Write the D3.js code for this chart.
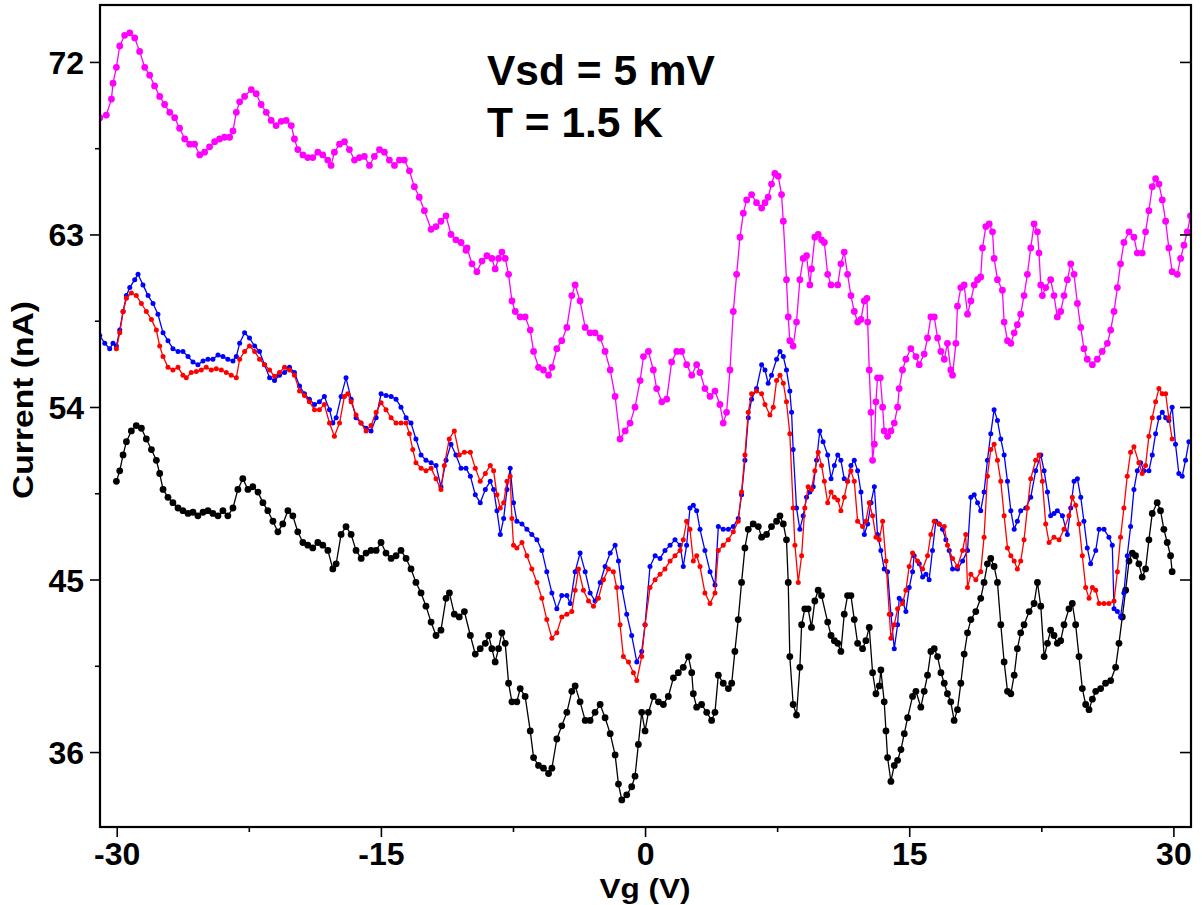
<!DOCTYPE html>
<html>
<head>
<meta charset="utf-8">
<script src="https://cdn.jsdelivr.net/npm/d3@7"></script>
<style>
  html, body { margin: 0; padding: 0; background: #fff; }
  svg { display: block; }
  text { font-family: "Liberation Sans", Arial, Helvetica, sans-serif; font-weight: bold; fill: #000; }
</style>
</head>
<body>
<svg id="chart" width="1202" height="905"></svg>
<script>
// ---------------- DATA (Vg in V, current in nA) ----------------
const xMajorTicks = [-30, -15, 0, 15, 30];
const xMinorTicks = [-22.5, -7.5, 7.5, 22.5];
const yMajorTicks = [36, 45, 54, 63, 72];
const yMinorTicks = [40.5, 49.5, 58.5, 67.5];
const annotationLines = ["Vsd = 5 mV", "T = 1.5 K"];
const xTitle = "Vg (V)";
const yTitle = "Current (nA)";

const magenta = [
[-30.96,69.09],[-30.59,69.23],[-30.30,70.06],[-30.21,70.89],[-30.02,71.72],[-29.83,72.83],[-29.55,73.39],[-29.26,73.52],[-28.98,73.25],[-28.70,72.55],
[-28.41,71.72],[-28.13,71.31],[-27.85,70.75],[-27.56,70.20],[-27.28,69.78],[-26.99,69.37],[-26.71,69.09],[-26.43,68.54],[-26.14,67.98],[-25.86,67.71],
[-25.58,67.71],[-25.29,67.15],[-25.01,67.29],[-24.73,67.57],[-24.44,67.84],[-24.16,67.98],[-23.88,68.07],[-23.59,68.07],[-23.40,68.40],[-23.21,69.37],
[-23.02,69.92],[-22.74,70.20],[-22.36,70.56],[-22.08,70.34],[-21.80,69.78],[-21.51,69.37],[-21.23,68.95],[-20.95,68.68],[-20.66,68.90],[-20.38,68.95],
[-20.09,68.68],[-19.91,67.98],[-19.72,67.43],[-19.43,67.15],[-19.15,67.01],[-18.87,67.01],[-18.58,67.29],[-18.30,67.15],[-18.02,66.88],[-17.83,66.60],
[-17.64,67.29],[-17.35,67.71],[-17.07,67.84],[-16.79,67.43],[-16.50,66.88],[-16.22,67.01],[-15.94,67.07],[-15.65,66.60],[-15.37,67.07],[-15.08,67.43],
[-14.80,67.29],[-14.52,66.88],[-14.23,66.60],[-13.95,66.88],[-13.67,66.88],[-13.38,66.32],[-13.10,65.49],[-12.82,64.94],[-12.53,64.24],[-12.15,63.27],
[-11.87,63.41],[-11.59,63.69],[-11.30,63.97],[-11.02,63.00],[-10.74,62.72],[-10.45,62.58],[-10.17,62.17],
[-10.11,62.30],[-9.83,61.47],[-9.55,61.06],[-9.26,61.61],[-8.98,61.89],[-8.70,61.75],[-8.51,61.20],[-8.32,61.75],[-8.13,62.08],[-7.94,61.75],
[-7.75,60.92],[-7.56,59.53],[-7.37,58.98],[-7.09,58.70],[-6.81,58.70],[-6.52,58.01],[-6.33,56.90],[-6.05,56.07],[-5.77,55.93],[-5.48,55.66],
[-5.29,56.07],[-5.01,57.04],[-4.73,57.46],[-4.44,58.15],[-4.16,59.81],[-3.97,60.37],[-3.69,59.53],[-3.40,58.15],[-3.12,57.87],[-2.84,57.87],
[-2.55,57.60],[-2.27,56.90],[-1.98,55.93],[-1.70,54.55],[-1.42,52.33],[-1.13,52.75],[-0.85,53.16],[-0.57,53.99],[-0.28,55.38],[-0.09,56.63],
[0.19,56.90],[0.47,55.93],[0.66,54.96],[0.95,54.27],[1.23,54.41],[1.51,56.35],[1.80,56.90],[2.08,56.90],[2.36,56.21],[2.65,55.66],
[2.93,56.21],[3.12,55.80],[3.40,54.96],[3.69,54.55],[3.97,54.83],[4.25,54.13],[4.44,53.16],[4.63,53.72],[4.82,55.93],[5.01,58.98],
[5.20,60.92],[5.39,62.86],[5.58,64.11],[5.77,64.80],[6.05,65.08],[6.33,64.66],[6.62,64.38],[6.81,64.66],[6.99,64.94],[7.18,65.63],
[7.37,66.18],[7.56,66.04],[7.75,65.08],[7.85,63.69],[8.03,60.64],[8.13,58.70],[8.22,57.46],[8.41,57.18],[8.60,58.43],[8.79,60.64],
[8.98,61.75],[9.17,61.89],[9.36,60.37],[9.45,61.20],[9.64,62.86],[9.83,63.00],[10.02,62.72],
[10.18,62.58],[10.37,60.92],[10.56,60.37],[10.94,60.37],[11.12,61.47],[11.31,62.08],[11.50,60.92],[11.69,59.81],[11.88,58.98],[12.07,58.43],
[12.26,58.57],[12.45,59.53],[12.60,59.67],[12.64,58.43],[12.73,55.93],[12.83,53.72],[12.92,51.22],[13.02,52.06],[13.11,54.27],[13.20,55.52],
[13.36,55.52],[13.49,53.99],[13.58,52.75],[13.77,52.47],[13.96,52.75],[14.15,53.16],[14.34,53.99],[14.43,54.96],[14.62,55.93],[14.81,56.49],
[15.09,57.04],[15.38,56.63],[15.57,56.21],[15.85,56.76],[16.04,57.60],[16.23,58.70],[16.42,58.70],[16.61,57.60],[16.80,56.90],[16.99,56.49],
[17.17,57.32],[17.36,55.93],[17.46,55.66],[17.65,57.32],[17.74,59.26],[17.93,60.23],[18.12,60.37],[18.31,58.84],[18.50,59.53],[18.69,60.37],
[18.88,60.64],[19.06,60.78],[19.16,62.30],[19.35,63.41],[19.54,63.55],[19.73,63.14],[19.82,61.75],[20.01,60.64],[20.29,60.09],[20.39,58.43],
[20.58,57.46],[20.77,57.32],[20.96,57.87],[21.14,58.29],[21.33,58.84],[21.52,59.81],[21.71,60.92],[21.90,62.30],[22.09,63.55],[22.28,63.14],
[22.37,62.03],[22.47,60.37],[22.56,59.81],[22.75,60.23],[23.03,60.64],[23.22,59.81],[23.41,58.70],[23.60,58.98],[23.79,59.81],[23.98,60.64],
[24.17,61.47],[24.36,60.92],[24.55,59.40],[24.74,58.15],[24.92,57.04],[25.11,56.49],[25.40,56.21],[25.68,56.49],[25.96,56.90],[26.25,57.32],
[26.44,58.01],[26.63,58.98],[26.82,60.23],[27.00,61.47],[27.19,62.58],[27.48,63.14],[27.76,62.86],[27.95,62.03],[28.23,62.03],[28.42,63.14],
[28.61,64.24],[28.80,65.49],[28.99,65.91],[29.18,65.63],[29.37,64.80],[29.56,63.69],[29.74,62.30],[29.93,61.06],[30.22,60.92],[30.41,61.75],
[30.60,62.44],[30.79,63.14],[30.97,63.97]
];

const blue = [
[-30.96,57.73],[-30.68,57.32],[-30.40,57.04],[-30.21,57.32],[-30.02,57.18],[-29.83,58.01],[-29.64,58.98],[-29.45,59.81],[-29.26,60.23],[-28.98,60.64],
[-28.79,60.92],[-28.51,60.37],[-28.22,59.81],[-27.94,59.40],[-27.66,58.84],[-27.37,57.87],[-27.09,57.46],[-26.81,57.04],[-26.52,56.90],[-26.24,56.90],
[-25.95,56.63],[-25.67,56.35],[-25.39,56.21],[-25.10,56.40],[-24.82,56.49],[-24.54,56.49],[-24.25,56.71],[-23.97,56.63],[-23.69,56.49],[-23.40,56.40],
[-23.21,56.63],[-23.02,57.32],[-22.74,57.87],[-22.46,57.60],[-22.17,57.18],[-21.89,56.90],[-21.61,56.21],[-21.32,55.52],[-21.04,55.38],[-20.76,55.66],
[-20.47,55.80],[-20.19,56.07],[-19.91,55.80],[-19.62,55.10],[-19.34,54.69],[-19.06,54.41],[-18.77,54.13],[-18.49,54.27],[-18.21,54.55],[-17.92,53.86],
[-17.73,53.16],[-17.54,53.44],[-17.26,54.55],[-16.98,55.52],[-16.69,54.41],[-16.41,53.44],[-16.13,53.16],[-15.84,52.89],[-15.56,52.75],[-15.27,53.44],
[-14.99,54.69],[-14.71,54.60],[-14.42,54.55],[-14.14,54.41],[-13.86,53.99],[-13.57,53.44],[-13.29,53.16],[-13.01,52.33],[-12.72,51.50],[-12.44,51.22],
[-12.15,51.09],[-11.87,50.95],[-11.59,49.84],[-11.30,51.22],[-11.02,52.06],[-10.74,51.50],[-10.45,50.81],[-10.17,50.81],
[-9.92,50.39],[-9.64,49.42],[-9.36,49.01],[-9.07,49.70],[-8.79,50.12],[-8.60,49.70],[-8.41,48.59],[-8.22,47.35],[-8.03,48.18],[-7.84,49.70],
[-7.66,50.81],[-7.47,49.01],[-7.28,48.04],[-6.99,47.90],[-6.71,47.62],[-6.43,47.35],[-6.14,47.07],[-5.86,46.52],[-5.58,45.41],[-5.29,44.30],
[-5.01,43.47],[-4.73,44.16],[-4.44,44.16],[-4.25,43.75],[-3.97,45.41],[-3.69,46.38],[-3.40,45.41],[-3.12,44.30],[-2.84,43.88],[-2.55,44.85],
[-2.27,45.68],[-1.98,46.38],[-1.70,46.79],[-1.51,45.96],[-1.32,44.58],[-1.04,43.19],[-0.76,42.08],[-0.47,40.70],[-0.19,41.25],[0.00,42.64],
[0.28,45.68],[0.57,46.24],[0.85,46.10],[1.13,46.52],[1.42,46.79],[1.70,47.07],[1.99,46.79],[2.17,45.68],[2.36,46.79],[2.55,48.73],
[2.74,48.87],[2.93,48.59],[3.12,47.62],[3.40,46.52],[3.69,45.41],[3.97,44.71],[4.16,47.76],[4.44,47.62],[4.73,47.62],[5.01,47.76],
[5.29,48.18],[5.48,49.42],[5.67,51.22],[5.86,53.44],[6.05,54.41],[6.33,54.96],[6.62,56.21],[6.81,55.93],[6.99,55.24],[7.18,55.66],
[7.47,56.49],[7.66,56.90],[7.85,56.63],[8.03,55.93],[8.22,54.83],[8.32,53.72],[8.41,51.78],[8.60,48.73],[8.79,47.62],[8.98,48.32],
[9.17,49.29],[9.36,49.56],[9.55,49.84],[9.74,51.22],[9.92,52.75],[10.11,52.19],
[10.37,51.50],[10.56,50.26],[10.75,50.95],[10.94,51.50],[11.12,51.22],[11.31,50.26],[11.50,50.12],[11.69,50.95],[11.88,51.22],[12.07,50.67],
[12.26,49.56],[12.45,47.35],[12.64,47.90],[12.83,49.01],[13.02,49.84],[13.20,47.35],[13.39,46.52],[13.58,45.55],[13.77,45.41],[13.96,43.19],
[14.15,41.39],[14.34,42.64],[14.43,44.02],[14.62,43.88],[14.81,43.33],[15.00,44.58],[15.19,45.41],[15.28,46.24],[15.57,45.82],[15.76,45.13],
[15.95,45.27],[16.13,44.99],[16.32,46.52],[16.51,48.04],[16.70,47.90],[16.89,47.62],[17.08,47.07],[17.27,46.52],[17.46,45.55],[17.74,45.55],
[18.03,45.96],[18.31,46.52],[18.50,49.29],[18.69,49.42],[18.88,49.01],[19.06,48.59],[19.25,49.56],[19.44,51.22],[19.63,52.61],[19.82,53.86],
[20.01,53.30],[20.20,52.33],[20.39,51.50],[20.58,50.12],[20.77,48.59],[20.96,47.62],[21.14,48.04],[21.33,48.59],[21.62,48.73],[21.90,49.29],
[22.18,50.67],[22.47,51.50],[22.66,50.67],[22.85,49.56],[23.03,48.32],[23.22,48.45],[23.41,48.59],[23.70,48.32],[23.98,47.35],[24.17,48.73],
[24.36,50.12],[24.55,50.26],[24.74,49.29],[24.92,48.04],[25.11,46.65],[25.30,45.82],[25.59,46.52],[25.78,47.62],[26.06,47.62],[26.34,47.21],
[26.53,46.79],[26.63,43.47],[26.82,43.33],[27.00,43.05],[27.19,44.30],[27.38,46.24],[27.57,47.76],[27.76,49.70],[27.95,50.67],[28.14,51.09],
[28.33,50.67],[28.61,50.67],[28.80,51.50],[28.99,52.61],[29.18,53.44],[29.37,53.72],[29.56,53.44],[29.74,53.30],[29.93,53.99],[30.12,52.06],
[30.31,50.53],[30.50,50.39],[30.69,51.22],[30.88,52.19]
];

const red = [
[-30.02,57.04],[-29.83,57.87],[-29.64,58.98],[-29.45,59.67],[-29.17,59.95],[-28.89,59.81],[-28.60,59.40],[-28.32,58.98],[-28.03,58.57],[-27.75,58.01],
[-27.56,57.18],[-27.37,56.63],[-27.09,56.07],[-26.81,55.93],[-26.52,56.07],[-26.24,55.66],[-26.05,55.52],[-25.77,55.80],[-25.48,55.85],[-25.20,55.93],
[-24.92,56.07],[-24.63,55.93],[-24.35,55.99],[-24.06,55.93],[-23.78,55.80],[-23.50,55.66],[-23.21,55.52],[-23.02,56.49],[-22.74,56.90],[-22.46,57.18],
[-22.17,56.90],[-21.89,56.49],[-21.61,56.21],[-21.32,55.93],[-21.04,55.60],[-20.76,55.80],[-20.47,56.07],[-20.19,55.93],[-19.91,55.66],[-19.62,54.83],
[-19.34,54.60],[-19.06,54.27],[-18.77,53.86],[-18.49,53.86],[-18.21,54.13],[-17.92,53.16],[-17.64,52.47],[-17.35,53.16],[-17.07,54.55],[-16.88,54.69],
[-16.69,54.27],[-16.41,53.58],[-16.13,53.16],[-15.84,52.75],[-15.56,53.03],[-15.27,53.72],[-14.99,54.22],[-14.71,53.86],[-14.42,53.44],[-14.14,53.16],
[-13.86,53.16],[-13.57,53.16],[-13.38,52.61],[-13.19,51.78],[-13.01,51.09],[-12.72,50.81],[-12.44,50.67],[-12.15,50.81],[-11.87,50.26],[-11.59,49.70],
[-11.40,50.95],[-11.12,52.33],[-10.83,52.75],[-10.55,51.50],[-10.26,51.64],
[-9.92,51.64],[-9.64,50.81],[-9.36,50.12],[-9.07,50.53],[-8.79,50.95],[-8.60,50.67],[-8.41,49.42],[-8.22,48.73],[-8.03,49.01],[-7.84,50.12],
[-7.66,50.39],[-7.56,48.18],[-7.47,46.79],[-7.28,46.65],[-6.99,46.93],[-6.71,46.24],[-6.43,45.55],[-6.14,44.85],[-5.86,44.02],[-5.58,42.91],
[-5.29,41.94],[-5.01,42.22],[-4.73,43.05],[-4.44,43.19],[-4.16,43.33],[-3.97,44.44],[-3.78,45.55],[-3.50,44.44],[-3.21,43.88],[-2.93,43.61],
[-2.65,44.02],[-2.36,44.99],[-2.08,45.55],[-1.80,45.41],[-1.61,44.58],[-1.42,42.64],[-1.23,40.98],[-0.94,40.70],[-0.66,40.14],[-0.47,39.73],
[-0.19,40.98],[0.00,42.64],[0.28,44.58],[0.57,44.99],[0.85,45.27],[1.13,45.55],[1.42,45.96],[1.70,46.24],[1.99,46.52],[2.17,47.07],
[2.36,48.04],[2.55,47.62],[2.74,45.96],[2.93,46.24],[3.12,45.68],[3.40,44.30],[3.69,43.75],[3.97,44.30],[4.16,46.52],[4.44,46.79],
[4.73,47.07],[5.01,47.49],[5.29,48.04],[5.48,49.56],[5.67,51.50],[5.86,53.72],[6.05,54.69],[6.33,54.83],[6.62,54.69],[6.81,54.13],
[7.09,53.58],[7.28,53.99],[7.47,55.38],[7.66,55.66],[7.85,55.24],[8.03,54.27],[8.22,52.61],[8.41,48.73],[8.51,46.79],[8.70,44.85],
[8.89,46.24],[9.07,48.73],[9.26,49.84],[9.45,49.70],[9.64,50.67],[9.83,51.64],[10.02,50.95],
[10.18,50.12],[10.37,49.01],[10.56,49.56],[10.75,49.29],[10.94,49.15],[11.12,48.59],[11.31,49.29],[11.50,50.12],[11.69,50.67],[11.88,50.12],
[12.07,48.04],[12.35,47.76],[12.54,48.04],[12.73,49.01],[12.92,48.32],[13.11,47.21],[13.30,47.07],[13.49,48.04],[13.68,45.96],[13.87,43.19],
[13.96,41.94],[14.15,42.64],[14.34,43.47],[14.62,43.75],[14.81,44.44],[15.00,45.68],[15.19,46.38],[15.47,45.96],[15.76,45.55],[16.04,46.24],
[16.23,47.35],[16.42,48.04],[16.70,47.90],[16.99,47.76],[17.17,46.79],[17.46,46.10],[17.74,45.68],[18.03,46.52],[18.21,47.35],[18.31,44.58],
[18.50,45.27],[18.78,44.99],[19.06,45.41],[19.25,47.21],[19.44,50.39],[19.63,51.78],[19.82,52.06],[20.01,51.22],[20.20,50.12],[20.39,48.32],
[20.58,46.65],[20.77,46.24],[20.96,45.96],[21.14,45.55],[21.33,45.96],[21.52,47.07],[21.71,48.73],[21.90,50.26],[22.18,51.22],[22.37,51.50],
[22.56,50.12],[22.75,47.90],[22.94,46.93],[23.22,47.21],[23.51,47.07],[23.79,47.62],[24.07,48.32],[24.26,49.29],[24.45,48.87],[24.64,47.90],
[24.83,46.24],[25.02,44.58],[25.21,44.02],[25.40,44.58],[25.59,44.44],[25.78,43.75],[26.06,43.75],[26.34,43.75],[26.63,43.88],[26.82,45.41],
[27.00,47.21],[27.19,48.73],[27.38,50.39],[27.57,51.64],[27.76,51.92],[28.04,51.09],[28.23,50.53],[28.42,50.95],[28.61,52.47],[28.80,53.44],
[28.99,54.27],[29.18,54.96],[29.37,54.69],[29.56,54.69],[29.74,53.44],[29.93,52.33]
];

const black = [
[-30.02,50.12],[-29.83,50.67],[-29.64,51.50],[-29.45,52.19],[-29.17,52.75],[-28.89,53.03],[-28.60,52.89],[-28.32,52.33],[-28.03,51.78],[-27.75,51.22],
[-27.56,50.53],[-27.37,49.70],[-27.09,49.29],[-26.81,49.01],[-26.52,48.73],[-26.24,48.59],[-25.95,48.45],[-25.67,48.51],[-25.39,48.32],[-25.10,48.51],
[-24.82,48.59],[-24.54,48.45],[-24.25,48.32],[-23.97,48.59],[-23.69,48.32],[-23.40,48.73],[-23.12,49.70],[-22.84,50.26],[-22.55,49.70],[-22.27,49.84],
[-21.98,49.56],[-21.70,49.01],[-21.42,48.59],[-21.13,48.04],[-20.85,47.49],[-20.57,47.90],[-20.28,48.59],[-20.00,48.32],[-19.72,47.49],[-19.43,46.93],
[-19.15,46.79],[-18.87,46.65],[-18.58,46.93],[-18.30,46.79],[-18.01,46.52],[-17.73,45.55],[-17.54,45.82],[-17.26,47.35],[-16.98,47.76],[-16.69,47.35],
[-16.41,46.52],[-16.12,46.10],[-15.84,46.38],[-15.56,46.52],[-15.27,46.52],[-14.99,46.93],[-14.71,46.38],[-14.42,46.10],[-14.14,46.24],[-13.86,46.52],
[-13.57,46.10],[-13.29,45.55],[-13.01,44.85],[-12.72,44.30],[-12.44,43.61],[-12.15,42.78],[-11.87,42.08],[-11.59,42.36],[-11.30,44.02],[-11.11,44.30],
[-10.83,43.19],[-10.55,43.05],[-10.26,43.33],
[-9.92,42.08],[-9.64,41.11],[-9.36,41.39],[-9.07,41.67],[-8.88,42.08],[-8.70,41.39],[-8.51,40.70],[-8.32,41.39],[-8.13,42.22],[-7.94,41.67],
[-7.75,39.59],[-7.56,38.62],[-7.28,38.62],[-7.09,39.31],[-6.81,38.90],[-6.52,37.10],[-6.33,35.71],[-6.05,35.30],[-5.77,35.16],[-5.48,34.88],
[-5.29,35.16],[-5.01,36.68],[-4.73,37.37],[-4.44,38.07],[-4.16,39.17],[-3.97,39.45],[-3.69,38.62],[-3.40,37.65],[-3.12,37.65],[-2.84,38.07],
[-2.55,38.48],[-2.27,37.79],[-1.98,36.96],[-1.70,35.85],[-1.51,34.33],[-1.32,33.50],[-1.04,33.77],[-0.76,34.19],[-0.57,34.74],[-0.38,36.40],
[-0.19,38.07],[0.00,37.10],[0.19,38.07],[0.47,38.90],[0.76,38.62],[1.04,38.48],[1.32,38.90],[1.61,39.87],[1.89,40.14],[2.17,40.42],
[2.46,40.98],[2.65,40.14],[2.74,39.04],[2.93,38.34],[3.21,38.48],[3.50,38.07],[3.78,37.65],[3.97,38.07],[4.16,40.01],[4.44,39.59],
[4.73,39.31],[4.92,39.59],[5.10,41.25],[5.29,42.91],[5.48,44.85],[5.67,46.65],[5.86,47.62],[6.14,47.90],[6.43,47.76],[6.62,47.21],
[6.90,47.35],[7.18,47.76],[7.47,48.04],[7.66,48.32],[7.85,47.90],[8.03,47.07],[8.13,44.85],[8.22,40.98],[8.41,38.48],[8.60,37.93],
[8.79,40.42],[8.89,42.64],[9.07,43.47],[9.26,43.47],[9.45,42.50],[9.64,43.88],[9.83,44.44],[10.02,44.16],
[10.37,42.78],[10.56,42.08],[10.75,41.81],[10.94,41.67],[11.12,41.25],[11.31,43.19],[11.50,44.16],[11.69,44.16],[11.88,42.91],[12.07,41.67],
[12.35,41.39],[12.54,41.81],[12.73,42.50],[12.92,40.14],[13.11,39.04],[13.30,39.45],[13.39,40.28],[13.58,38.62],[13.68,37.10],[13.77,35.71],
[13.96,34.47],[14.15,35.30],[14.34,35.57],[14.53,36.13],[14.72,36.96],[14.91,37.79],[15.19,38.90],[15.38,39.17],[15.66,38.34],[15.85,39.17],
[16.04,40.01],[16.23,41.25],[16.42,41.39],[16.61,40.98],[16.80,40.14],[16.99,39.59],[17.17,39.04],[17.36,38.62],[17.55,37.65],[17.74,38.21],
[17.93,39.59],[18.12,41.11],[18.31,42.22],[18.50,42.91],[18.78,43.33],[19.06,44.02],[19.25,44.85],[19.44,45.82],[19.63,46.10],[19.82,45.68],
[20.01,44.85],[20.20,42.64],[20.39,40.70],[20.58,39.17],[20.77,39.04],[20.96,40.01],[21.14,41.39],[21.33,42.22],[21.52,42.64],[21.81,43.33],
[22.09,43.75],[22.28,44.85],[22.47,43.61],[22.66,40.98],[22.85,41.67],[23.03,42.36],[23.22,42.08],[23.41,41.67],[23.60,41.81],[23.79,42.64],
[24.07,43.47],[24.26,43.75],[24.45,42.64],[24.64,40.98],[24.83,39.31],[25.02,38.48],[25.21,38.21],[25.40,38.76],[25.59,39.17],[25.87,39.31],
[26.15,39.59],[26.44,39.73],[26.72,40.42],[26.91,41.67],[27.10,43.05],[27.29,44.44],[27.48,45.96],[27.67,46.38],[27.85,46.24],[28.04,45.82],
[28.23,45.13],[28.42,45.55],[28.61,47.07],[28.80,48.45],[29.08,49.01],[29.27,48.59],[29.46,47.62],[29.65,46.93],[29.84,46.24],[29.93,45.41]
];

const seriesList = [
  { name: "black",   data: black,   color: "#000000", r: 3.4 },
  { name: "magenta", data: magenta, color: "#FF00FF", r: 3.4 },
  { name: "blue",    data: blue,    color: "#0000FF", r: 2.5 },
  { name: "red",     data: red,     color: "#FF0000", r: 2.5 }
];

// ---------------- LAYOUT ----------------
const W = 1202, H = 905;
const plot = { left: 100, top: 5, right: 1191, bottom: 827 };

const x = d3.scaleLinear().domain([-30.95, 31.0]).range([plot.left, plot.right]);
const y = d3.scaleLinear().domain([32.09, 74.97]).range([plot.bottom, plot.top]);

const svg = d3.select("#chart");
svg.append("rect").attr("width", W).attr("height", H).attr("fill", "#fff");

svg.append("defs").append("clipPath").attr("id", "plotClip")
  .append("rect")
  .attr("x", plot.left).attr("y", plot.top)
  .attr("width", plot.right - plot.left).attr("height", plot.bottom - plot.top);

// ---------------- SERIES ----------------
const lineGen = d3.line().x(d => x(d[0])).y(d => y(d[1]));
const gData = svg.append("g").attr("clip-path", "url(#plotClip)");
seriesList.forEach(s => {
  const g = gData.append("g").attr("class", "series-" + s.name);
  g.append("path")
    .datum(s.data)
    .attr("d", lineGen)
    .attr("fill", "none")
    .attr("stroke", s.color)
    .attr("stroke-width", 1.3)
    .attr("stroke-linejoin", "round");
  g.selectAll("circle")
    .data(s.data)
    .join("circle")
    .attr("cx", d => x(d[0]))
    .attr("cy", d => y(d[1]))
    .attr("r", s.r)
    .attr("fill", s.color);
});

// ---------------- AXES ----------------
const tickFont = 32;
const plainFmt = d => String(d);   // ASCII hyphen-minus as in the reference

// left axis (major, labelled)
const leftMajor = svg.append("g")
  .attr("transform", `translate(${plot.left},0)`)
  .call(d3.axisLeft(y).tickValues(yMajorTicks).tickSize(10).tickPadding(6).tickFormat(plainFmt));
leftMajor.select(".domain").remove();
leftMajor.selectAll(".tick line").attr("stroke", "#000").attr("stroke-width", 1.6);
leftMajor.selectAll(".tick text")
  .style("font-size", tickFont + "px").style("font-weight", "bold")
  .attr("font-family", null).attr("dy", "0.36em").attr("fill", "#000");

// left minor
const leftMinor = svg.append("g")
  .attr("transform", `translate(${plot.left},0)`)
  .call(d3.axisLeft(y).tickValues(yMinorTicks).tickSize(5).tickFormat(""));
leftMinor.select(".domain").remove();
leftMinor.selectAll(".tick line").attr("stroke", "#000").attr("stroke-width", 1.6);

// right axis (major ticks pointing inward, no labels)
const rightAxis = svg.append("g")
  .attr("transform", `translate(${plot.right},0)`)
  .call(d3.axisLeft(y).tickValues(yMajorTicks).tickSize(11).tickFormat(""));
rightAxis.select(".domain").remove();
rightAxis.selectAll(".tick line").attr("stroke", "#000").attr("stroke-width", 1.6);

// bottom axis (major, labelled)
const bottomMajor = svg.append("g")
  .attr("transform", `translate(0,${plot.bottom})`)
  .call(d3.axisBottom(x).tickValues(xMajorTicks).tickSize(10).tickPadding(7).tickFormat(plainFmt));
bottomMajor.select(".domain").remove();
bottomMajor.selectAll(".tick line").attr("stroke", "#000").attr("stroke-width", 1.6);
bottomMajor.selectAll(".tick text")
  .style("font-size", tickFont + "px").style("font-weight", "bold")
  .attr("font-family", null).attr("fill", "#000")
  .attr("y", 38).attr("dy", 0);

// bottom minor
const bottomMinor = svg.append("g")
  .attr("transform", `translate(0,${plot.bottom})`)
  .call(d3.axisBottom(x).tickValues(xMinorTicks).tickSize(5).tickFormat(""));
bottomMinor.select(".domain").remove();
bottomMinor.selectAll(".tick line").attr("stroke", "#000").attr("stroke-width", 1.6);

// frame
svg.append("rect")
  .attr("x", plot.left).attr("y", plot.top)
  .attr("width", plot.right - plot.left).attr("height", plot.bottom - plot.top)
  .attr("fill", "none").attr("stroke", "#000").attr("stroke-width", 2.2);

// ---------------- TITLES ----------------
svg.append("text")
  .attr("x", x(0)).attr("y", 898)
  .attr("text-anchor", "middle")
  .style("font-size", "28px")
  .attr("textLength", 91).attr("lengthAdjust", "spacingAndGlyphs")
  .text(xTitle);

svg.append("text")
  .attr("transform", "translate(33,400) rotate(-90)")
  .attr("text-anchor", "middle")
  .style("font-size", "30px")
  .attr("textLength", 198).attr("lengthAdjust", "spacingAndGlyphs")
  .text(yTitle);

// annotation
const ann = svg.append("text").attr("x", 487).attr("y", 84.5).style("font-size", "42.5px");
annotationLines.forEach((t, i) => {
  ann.append("tspan").attr("x", 487).attr("dy", i === 0 ? 0 : 52).text(t);
});
</script>
